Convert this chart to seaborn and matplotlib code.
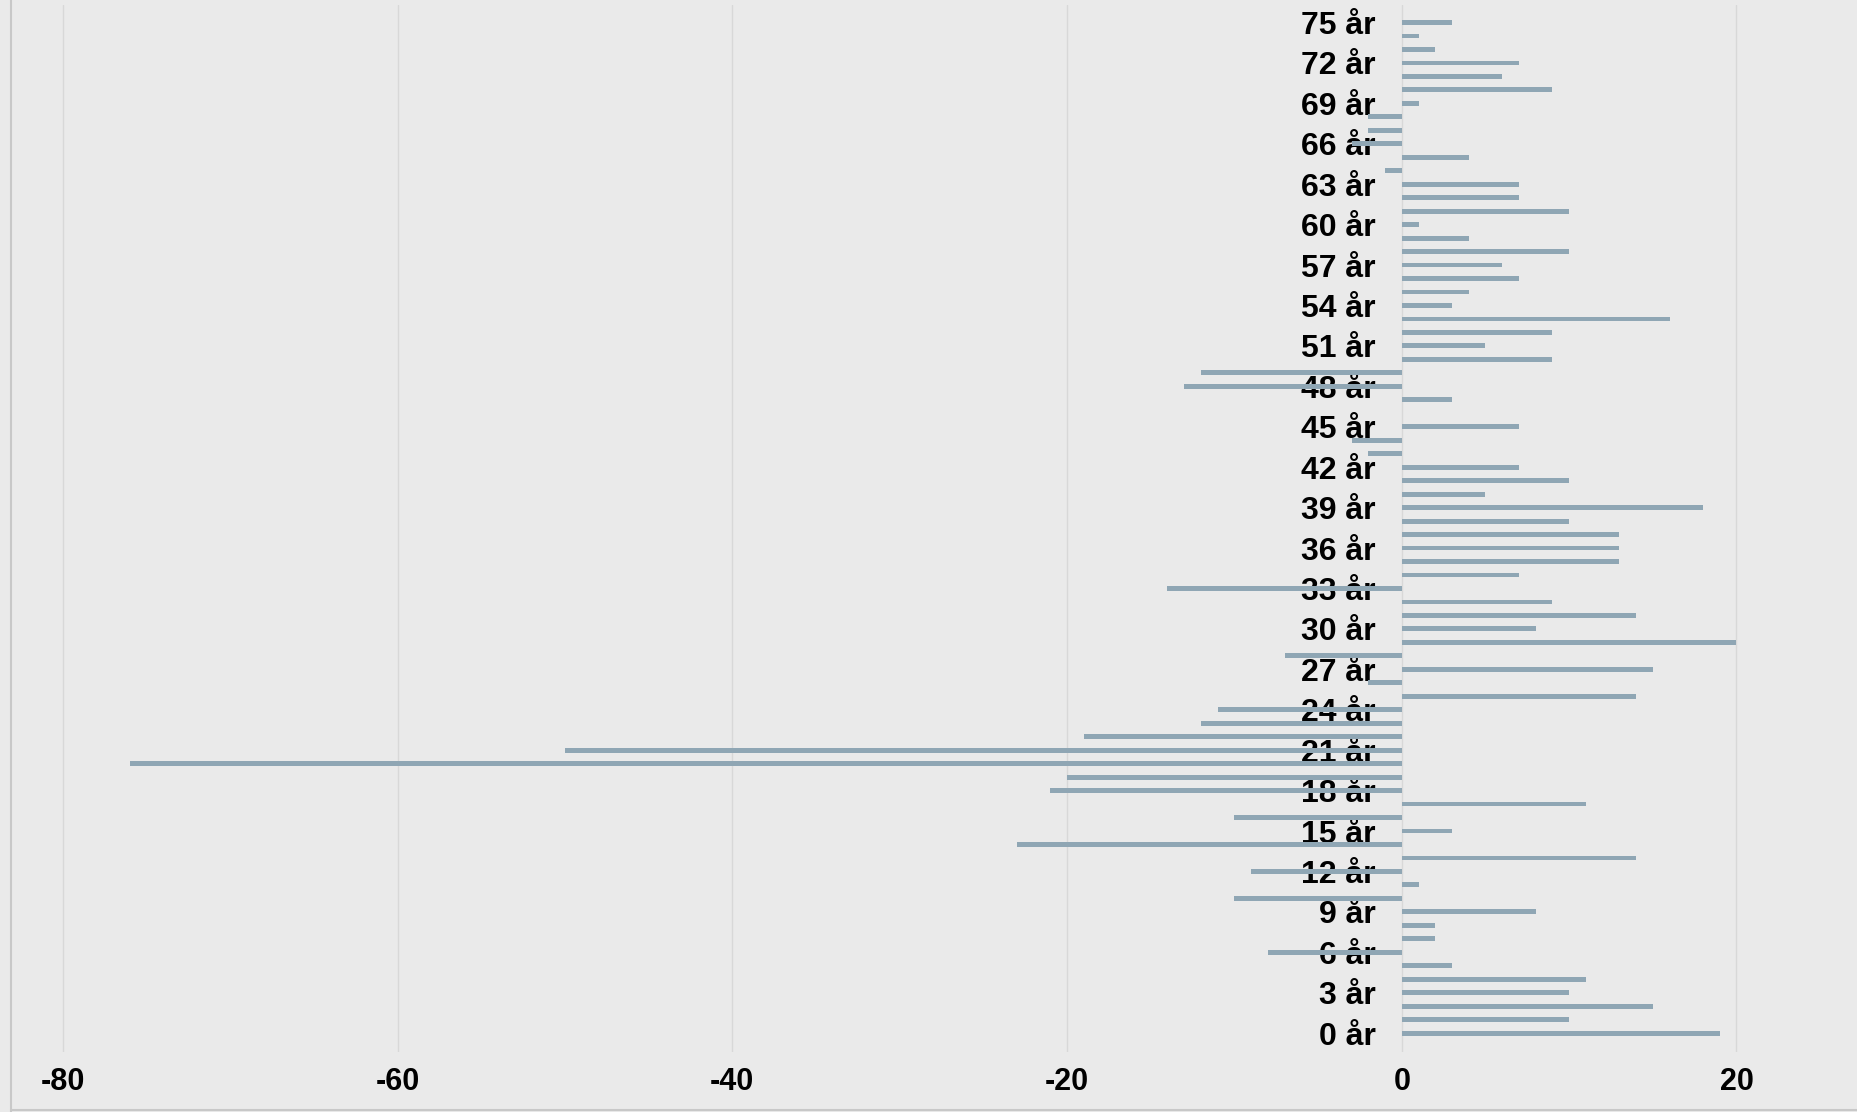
import matplotlib
matplotlib.use("Agg")
import matplotlib.pyplot as plt
from matplotlib.lines import Line2D
import seaborn as sns
import pandas as pd

# age (years) and net change per age
ages = list(range(0, 76))
values = [
    19, 10, 15, 10, 11, 3, -8, 2, 2, 8,          # 0-9
    -10, 1, -9, 14, -23, 3, -10, 11, -21, -20,   # 10-19
    -76, -50, -19, -12, -11, 14, -2, 15, -7, 20, # 20-29
    8, 14, 9, -14, 7, 13, 13, 13, 10, 18,        # 30-39
    5, 10, 7, -2, -3, 7, 0, 3, -13, -12,         # 40-49
    9, 5, 9, 16, 3, 4, 7, 6, 10, 4,              # 50-59
    1, 10, 7, 7, -1, 4, -3, -2, -2, 1,           # 60-69
    9, 6, 7, 2, 1, 3,                            # 70-75
]
label_ages = list(range(0, 76, 3))
label_texts = [f"{a} år" for a in label_ages]
x_ticks = [-80, -60, -40, -20, 0, 20]

df = pd.DataFrame({"age": ages, "value": values})

W, H = 1857, 1112
bg = "#eaeaea"
bar_color = "#8fa6b4"

sns.set_theme(style="white")
plt.rcParams["font.family"] = ["Liberation Sans", "DejaVu Sans"]

fig = plt.figure(figsize=(W / 100, H / 100), dpi=100, facecolor=bg)
ax = fig.add_axes([11 / W, 1 - 1052 / H, (W - 11) / W, (1052 - 5) / H])
ax.set_facecolor(bg)

sns.barplot(data=df, x="value", y="age", orient="h", native_scale=True,
            color=bar_color, saturation=1, width=0.36, linewidth=0,
            ax=ax)

ax.set_xlim(-83.1, 27.2)
ax.set_ylim(-1.4, 76.3)

# vertical grid only
ax.set_xticks(x_ticks)
ax.set_xticklabels([str(t) for t in x_ticks], fontsize=22,
                   fontweight="bold", color="black")
ax.grid(axis="x", color="#d8d8d8", linewidth=1)
ax.grid(axis="y", visible=False)
ax.set_axisbelow(True)

# age labels sit against the zero line
ax.spines["left"].set_position(("data", 0))
for side in ["left", "right", "top", "bottom"]:
    ax.spines[side].set_visible(False)
ax.set_yticks(label_ages)
ax.set_yticklabels(label_texts, fontsize=23, fontweight="bold", color="black")
ax.tick_params(axis="y", length=0, pad=19)
ax.tick_params(axis="x", length=0, pad=11)
ax.set_xlabel("")
ax.set_ylabel("")

# thin frame on the left and bottom of the picture
fig.add_artist(Line2D([11 / W, 11 / W], [0, 1], color="#c8c8c8", linewidth=1.5))
fig.add_artist(Line2D([11 / W, 1], [2 / H, 2 / H], color="#c8c8c8", linewidth=1.5))

fig.savefig("out.png", dpi=100, facecolor=bg)
